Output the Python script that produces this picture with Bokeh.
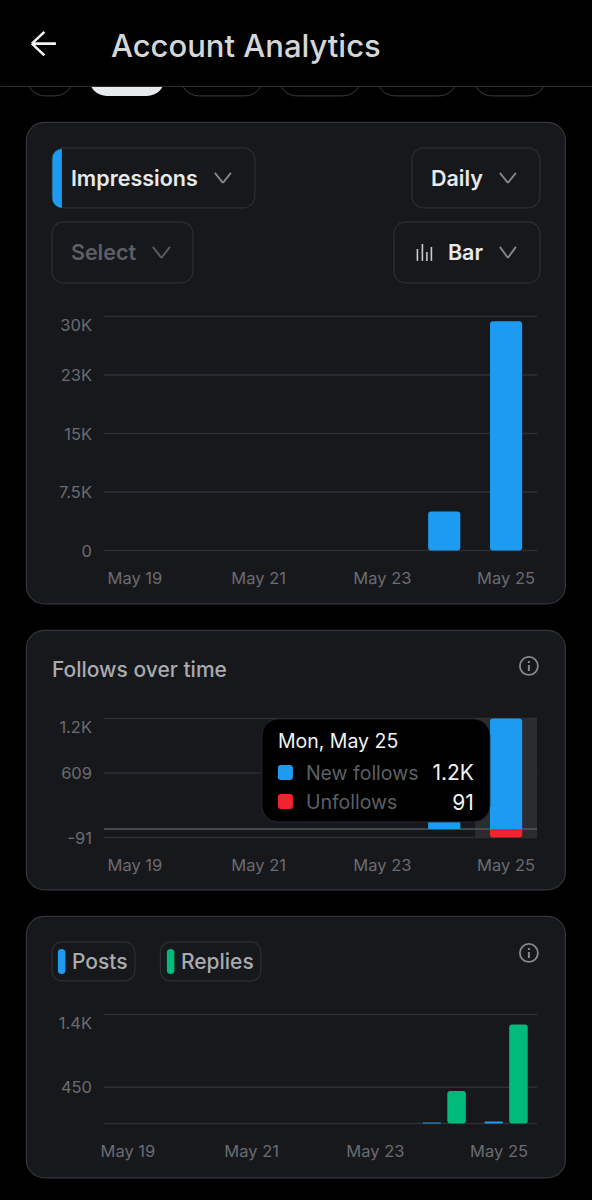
from bokeh.embed import file_html
from bokeh.resources import INLINE
from bokeh.layouts import column
from bokeh.plotting import figure
from bokeh.models import (Arrow, BoxAnnotation, FixedTicker, Label, LinearAxis, Range1d)

days = [19, 20, 21, 22, 23, 24, 25]
x_tick_days = [19, 21, 23, 25]
x_tick_labels = ["May 19", "May 21", "May 23", "May 25"]

impressions = [0, 0, 0, 0, 0, 5000, 29400]
impression_ticks = [0, 7500, 15000, 22500, 30000]
impression_labels = ["0", "7.5K", "15K", "23K", "30K"]

new_follows = [0, 0, 0, 0, 0, 200, 1200]
unfollows = [0, 0, 0, 0, 0, 0, -91]
follow_ticks = [-91, 609, 1200]
follow_labels = ["-91", "609", "1.2K"]

posts = [0, 0, 0, 0, 0, 12, 25]
replies = [0, 0, 0, 0, 0, 403, 1226]
activity_ticks = [0, 450, 1350]
activity_labels = ["", "450", "1.4K"]

BLUE, RED, GREEN = "#1d9bf0", "#f4212e", "#00ba7c"
CARD, EDGE, GRID = "#17181c", "#33353a", "#2d2f33"
TICK = "#696c71"
FONT = "Inter"
MEDIUM = "Inter Medium"
SEMI = "Inter SemiBold"
X0, X1 = 104, 537
W = 592
DAY_PX = (X1 - X0) / 7
NUDGE = 0.6


def make_fig(canvas_top, canvas_bottom, frame_top, frame_bottom, ymin, ymax, ticks, labels, tick_shift=0.0):
    u = (ymax - ymin) / (frame_bottom - frame_top)
    p = figure(width=W, height=canvas_bottom - canvas_top, output_backend="svg", toolbar_location=None,
               x_range=Range1d(18.5 - (X0 - 0.5) / DAY_PX, 25.5 + (W - X1 + 0.5) / DAY_PX),
               y_range=Range1d(ymin - (canvas_bottom - frame_bottom) * u, ymax + (frame_top - canvas_top) * u),
               x_axis_location=None, y_axis_location=None,
               min_border_left=0, min_border_right=0, min_border_top=0, min_border_bottom=0,
               background_fill_color="#000000", border_fill_color="#000000", outline_line_color=None)
    p.extra_x_ranges = {"px": Range1d(NUDGE, W + NUDGE)}
    p.extra_y_ranges = {"px": Range1d(canvas_bottom + NUDGE, canvas_top + NUDGE)}
    p.grid.visible = False
    # the top label sits a little below its grid line, as in the app
    pos = [float(t) - (8 * u if t == max(ticks) else 0.0) for t in ticks]
    yax = LinearAxis(fixed_location=18.5, ticker=FixedTicker(ticks=pos),
                     major_label_overrides={a: b for a, b in zip(pos, labels)}, major_label_standoff=12)
    xp = [d + tick_shift for d in x_tick_days]
    xax = LinearAxis(fixed_location=ymin, ticker=FixedTicker(ticks=xp),
                     major_label_overrides={a: b for a, b in zip(xp, x_tick_labels)}, major_label_standoff=17)
    for ax in (xax, yax):
        ax.axis_line_color = None
        ax.major_tick_line_color = None
        ax.minor_tick_line_color = None
        ax.major_tick_in = 0
        ax.major_tick_out = 0
        ax.major_label_text_color = TICK
        ax.major_label_text_font = FONT
        ax.major_label_text_font_size = "16.5px"
    p.add_layout(yax, "left")
    p.add_layout(xax, "below")
    return p


def grid(p, ticks):
    p.segment(x0=[18.5] * len(ticks), x1=[25.5] * len(ticks), y0=ticks, y1=ticks, line_color=GRID, line_width=1.5)


def box(p, l, t, r, b, fill=None, line=None, radius=0, lw=1.0, level="annotation"):
    a = BoxAnnotation(left=l, right=r, top=t, bottom=b, x_range_name="px", y_range_name="px",
                      fill_color=fill, fill_alpha=1 if fill else 0, line_color=line, line_alpha=1 if line else 0,
                      line_width=lw, border_radius=radius, level=level, editable=False)
    p.add_layout(a)
    return a


def text(p, x, y, s, size, color, align="left", font=FONT, level="annotation"):
    lab = Label(x=x, y=y, text=s, x_range_name="px", y_range_name="px", text_font=font,
                text_font_size=f"{size}px", text_color=color, text_align=align, text_baseline="middle",
                level=level)
    p.add_layout(lab)


def seg(p, x0, y0, x1, y1, color, width=2.0):
    a = Arrow(x_start=x0, y_start=y0, x_end=x1, y_end=y1, end=None, line_color=color, line_width=width,
              x_range_name="px", y_range_name="px", level="annotation")
    p.add_layout(a)


def chevron(p, x0, x1, y0, y1, color):
    mid = (x0 + x1) / 2
    seg(p, x0, y0, mid, y1, color, 1.8)
    seg(p, mid, y1, x1, y0, color, 1.8)


def info(p, cx, cy):
    c = "#85888c"
    box(p, cx - 9, cy - 9, cx + 9, cy + 9, None, c, 9, 1.8)
    box(p, cx - 1, cy - 1, cx + 1, cy + 5, c)
    box(p, cx - 1, cy - 5, cx + 1, cy - 3, c)


# ---------- first card ----------
p1 = make_fig(0, 617, 316, 550, 0, 30000, impression_ticks, impression_labels)
for l, r in [(27, 73), (181, 263), (279, 361), (377, 457), (474, 546)]:
    box(p1, l, 60, r, 96, None, "#3a3c40", 18, 1.0, level="image")
box(p1, 89, 60, 165, 96, "#e7e9ea", None, 18, level="image")
box(p1, 0, 0, W + 2, 86.5, "#000000", level="image")
box(p1, 0, 86, W + 2, 87.2, "#2a2c30", level="image")
box(p1, 26.5, 122.5, 565.5, 604, CARD, EDGE, 18, 1.2, level="image")
for l, t, r, b in [(52, 148, 255, 208), (412, 148, 540, 208), (52, 222, 193, 283), (394, 222, 540, 283)]:
    box(p1, l, t, r, b, None, "#2c2e33", 12, 1.2)
box(p1, 52.5, 149, 62, 208, BLUE, None, (10, 0, 0, 10))

seg(p1, 32, 43.7, 56, 43.7, "#f2f3f3", 2.6)
seg(p1, 44.5, 32, 32, 43.7, "#f2f3f3", 2.6)
seg(p1, 32, 43.7, 44.5, 55.5, "#f2f3f3", 2.6)
text(p1, 111, 46, "Account Analytics", 31, "#d4d6d7", font=MEDIUM)
text(p1, 71, 178, "Impressions", 21.5, "#e7e9ea", font=SEMI)
text(p1, 431, 178, "Daily", 21.5, "#e7e9ea", font=SEMI)
text(p1, 71, 252, "Select", 21.5, "#5c5f63", font=SEMI)
text(p1, 448, 252, "Bar", 21.5, "#e7e9ea", font=SEMI)
chevron(p1, 215, 231, 173, 183, "#85888c")
chevron(p1, 500, 516, 173, 183, "#85888c")
chevron(p1, 153, 170, 247, 258, "#5c5f63")
chevron(p1, 500, 516, 247, 258, "#85888c")
for x, t in [(417.5, 249), (422.5, 244), (427, 252), (431.5, 247)]:
    box(p1, x - 0.8, t, x + 0.8, 261, "#c9cbcd")

grid(p1, impression_ticks)
p1.vbar(x=days, top=impressions, bottom=0, width=0.52, fill_color=BLUE, line_color=None, border_radius=3)

# ---------- second card ----------
p2 = make_fig(617, 903, 718, 837, -91, 1200, follow_ticks, follow_labels)
box(p2, 26.5, 630.5, 565.5, 890, CARD, EDGE, 18, 1.2, level="image")
p2.add_layout(BoxAnnotation(left=24.5, right=25.5, bottom=-91, top=1200, fill_color="#2b2c30", fill_alpha=1,
                            line_alpha=0, level="underlay", editable=False))
grid(p2, follow_ticks)
p2.segment(x0=[18.5], x1=[25.5], y0=[0], y1=[0], line_color="#55575b", line_width=1.5)
text(p2, 52, 670, "Follows over time", 21, "#a9abaf", font=MEDIUM)
info(p2, 529, 666)
p2.vbar(x=days, top=new_follows, bottom=0, width=0.52, fill_color=BLUE, line_color=None, border_radius=(3, 3, 0, 0))
p2.vbar(x=days, top=0, bottom=unfollows, width=0.52, fill_color=RED, line_color=None, border_radius=(0, 0, 3, 3))

box(p2, 262, 719, 490, 822, "#000000", "#25272b", 16, 1.0, level="overlay")
text(p2, 278, 741, "Mon, May 25", 19.5, "#f2f3f3", level="overlay")
box(p2, 278, 765, 293, 780, BLUE, None, 3, level="overlay")
box(p2, 278, 794, 293, 809, RED, None, 3, level="overlay")
text(p2, 306, 773, "New follows", 19.5, "#5d6065", level="overlay")
text(p2, 306, 802, "Unfollows", 19.5, "#5d6065", level="overlay")
text(p2, 474, 773, "1.2K", 21, "#f2f3f3", align="right", level="overlay")
text(p2, 474, 802, "91", 21, "#f2f3f3", align="right", level="overlay")

# ---------- third card ----------
p3 = make_fig(903, 1200, 1014, 1123, 0, 1350, activity_ticks, activity_labels, tick_shift=-7 / DAY_PX)
box(p3, 26.5, 916.5, 565.5, 1178, CARD, EDGE, 18, 1.2, level="image")
box(p3, 52, 942, 135, 981, None, "#2c2e33", 10, 1.2)
box(p3, 160.5, 942, 261, 981, None, "#2c2e33", 10, 1.2)
box(p3, 58, 949, 65.5, 974, BLUE, None, 4)
box(p3, 167, 949, 174.5, 974, GREEN, None, 4)
text(p3, 72, 961.5, "Posts", 21, "#a9abaf", font=MEDIUM)
text(p3, 181, 961.5, "Replies", 21, "#a9abaf", font=MEDIUM)
info(p3, 529, 953)
grid(p3, activity_ticks)
p3.vbar(x=[d - 0.2 for d in days], top=posts, bottom=0, width=0.3, fill_color=BLUE, line_color=None, border_radius=1)
p3.vbar(x=[d + 0.2 for d in days], top=replies, bottom=0, width=0.3, fill_color=GREEN, line_color=None, border_radius=3)

page = column(p1, p2, p3, spacing=0)
html = file_html(page, INLINE)
html = html.replace("</head>", "<style>html,body{margin:0;padding:0;background:#000;}</style></head>", 1)
open("out.html", "w").write(html)
